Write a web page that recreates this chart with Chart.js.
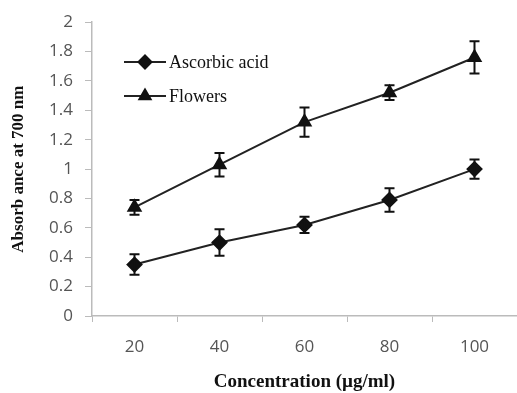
<!DOCTYPE html>
<html>
<head>
<meta charset="utf-8">
<script src="https://cdn.jsdelivr.net/npm/chart.js@4"></script>
<style>
  html, body { margin: 0; padding: 0; background: #fff; }
  #wrap { width: 517px; height: 393px; }
</style>
</head>
<body>
<div id="wrap"><canvas id="c" width="517" height="393"></canvas></div>
<script>
var concentrations = ['20', '40', '60', '80', '100'];
var ascorbicAcid = [0.35, 0.50, 0.62, 0.79, 1.00];
var ascorbicErr = [0.07, 0.09, 0.055, 0.08, 0.065];
var flowers = [0.74, 1.03, 1.32, 1.52, 1.76];
var flowersErr = [0.05, 0.08, 0.10, 0.05, 0.11];
var yTicks = [0, 0.2, 0.4, 0.6, 0.8, 1, 1.2, 1.4, 1.6, 1.8, 2];

var serif = '"Liberation Serif", "DejaVu Serif", serif';
var sans = '"Open Sans", "Liberation Sans", sans-serif';

// error bars, drawn from the y scale
var errorBars = {
  id: 'errorBars',
  afterDatasetsDraw: function(chart) {
    var ctx = chart.ctx, y = chart.scales.y;
    chart.data.datasets.forEach(function(ds, i) {
      var meta = chart.getDatasetMeta(i);
      ctx.save();
      ctx.strokeStyle = '#111';
      ctx.lineWidth = 2;
      meta.data.forEach(function(pt, j) {
        var v = ds.data[j], e = ds.err[j];
        var top = y.getPixelForValue(v + e), bot = y.getPixelForValue(v - e);
        ctx.beginPath();
        ctx.moveTo(pt.x, top); ctx.lineTo(pt.x, bot);
        ctx.moveTo(pt.x - 5, top); ctx.lineTo(pt.x + 5, top);
        ctx.moveTo(pt.x - 5, bot); ctx.lineTo(pt.x + 5, bot);
        ctx.stroke();
      });
      ctx.restore();
    });
  }
};

// legend inside the plot, top left
var innerLegend = {
  id: 'innerLegend',
  afterDraw: function(chart) {
    var ctx = chart.ctx;
    var x0 = 124, x1 = 166, rows = [62, 96];
    chart.data.datasets.forEach(function(ds, i) {
      var yy = rows[i];
      ctx.save();
      ctx.strokeStyle = '#222';
      ctx.lineWidth = 2;
      ctx.beginPath(); ctx.moveTo(x0, yy); ctx.lineTo(x1, yy); ctx.stroke();
      ctx.fillStyle = '#111';
      ctx.strokeStyle = '#111';
      Chart.helpers.drawPoint(ctx, { pointStyle: ds.pointStyle, radius: 6.5, borderWidth: 1 }, (x0 + x1) / 2, yy);
      ctx.font = '18px ' + serif;
      ctx.textBaseline = 'middle';
      ctx.fillText(ds.label, x1 + 3, yy + 1);
      ctx.restore();
    });
  }
};

new Chart(document.getElementById('c'), {
  type: 'line',
  data: {
    labels: concentrations,
    datasets: [
      { label: 'Ascorbic acid', data: ascorbicAcid, err: ascorbicErr, pointStyle: 'rectRot' },
      { label: 'Flowers', data: flowers, err: flowersErr, pointStyle: 'triangle' }
    ].map(function(d) {
      d.borderColor = '#222';
      d.backgroundColor = '#111';
      d.pointBackgroundColor = '#111';
      d.pointBorderColor = '#111';
      d.borderWidth = 2;
      d.pointRadius = 7;
      d.tension = 0;
      return d;
    })
  },
  options: {
    responsive: false,
    animation: false,
    layout: { autoPadding: false, padding: { top: 21, right: 0, left: 4, bottom: 0 } },
    plugins: { legend: { display: false }, tooltip: { enabled: false } },
    scales: {
      x: {
        offset: true,
        grid: { display: true, offset: true, drawOnChartArea: false, color: '#bbb', tickLength: 6 },
        border: { color: '#bbb', width: 1.5 },
        ticks: { color: '#555', font: { family: sans, size: 17 }, padding: 15 },
        title: { display: true, text: 'Concentration (µg/ml)', color: '#111', font: { family: serif, size: 19, weight: 'bold' }, padding: { top: 14, bottom: 0 } },
        afterFit: function(s) { s.height = 77; }
      },
      y: {
        min: 0, max: 2,
        afterBuildTicks: function(s) { s.ticks = yTicks.map(function(v) { return { value: v }; }); },
        grid: { display: true, drawOnChartArea: false, color: '#bbb', tickLength: 7 },
        border: { color: '#bbb', width: 1.5 },
        ticks: {
          color: '#555', font: { family: sans, size: 17 }, padding: 12,
          callback: function(v) { return String(Math.round(v * 10) / 10); }
        },
        title: { display: true, text: 'Absorb ance at 700 nm', color: '#111', font: { family: serif, size: 17, weight: 'bold' }, padding: { bottom: 6 } },
        afterFit: function(s) { s.width = 88; }
      }
    }
  },
  plugins: [errorBars, innerLegend]
});
</script>
</body>
</html>
